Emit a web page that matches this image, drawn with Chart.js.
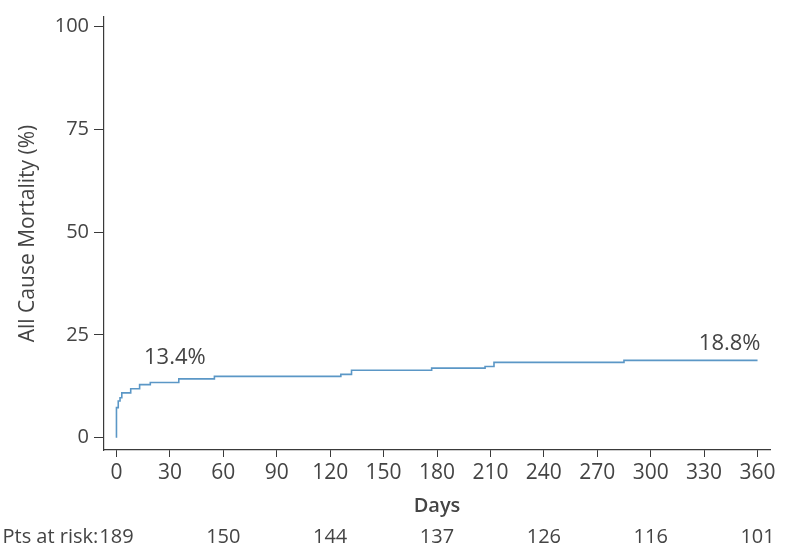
<!DOCTYPE html>
<html>
<head>
<meta charset="utf-8">
<title>All Cause Mortality</title>
<script src="https://cdn.jsdelivr.net/npm/chart.js@4.4.0/dist/chart.umd.min.js"></script>
<style>
  html, body { margin: 0; padding: 0; background: #fff; }
</style>
</head>
<body>
<canvas id="km" width="785" height="556"></canvas>
<script>
// Kaplan-Meier cumulative mortality (%) by day
const days = [0, 0, 1, 2, 3, 8, 13, 19, 35, 55, 126, 132, 177, 207, 212, 285, 360];
const mortality = [0, 7.3, 8.9, 9.7, 10.9, 11.9, 12.9, 13.4, 14.3, 14.9, 15.4, 16.4, 16.9, 17.3, 18.3, 18.8, 18.8];

const dayTicks = [0, 30, 60, 90, 120, 150, 180, 210, 240, 270, 300, 330, 360];
const mortalityTicks = [0, 25, 50, 75, 100];

// numbers at risk table under the axis
const riskDays = [0, 60, 120, 180, 240, 300, 360];
const atRisk = [189, 150, 144, 137, 126, 116, 101];

// estimates written on the curve
const calloutDays = [30, 360];
const calloutValues = [13.4, 18.8];

const FONT = '"Open Sans", "Noto Sans", sans-serif';
const TEXT = '#444';
const AXIS = '#3a3a3a';

const riskTable = {
  id: 'riskTable',
  afterDraw(chart) {
    const { ctx, scales: { x }, chartArea } = chart;
    const yRow = chartArea.bottom + 87;
    ctx.save();
    ctx.font = '20px ' + FONT;
    ctx.fillStyle = TEXT;
    ctx.textBaseline = 'middle';
    ctx.textAlign = 'center';
    atRisk.forEach((n, i) => {
      const px = x.getPixelForValue(riskDays[i]);
      ctx.fillText(String(n), px, yRow);
      if (i === 0) {
        const half = ctx.measureText(String(n)).width / 2;
        ctx.textAlign = 'right';
        ctx.fillText('Pts at risk:', px - half - 1, yRow);
        ctx.textAlign = 'center';
      }
    });
    ctx.restore();
  }
};

const callouts = {
  id: 'callouts',
  afterDatasetsDraw(chart) {
    const { ctx, scales: { x, y }, chartArea } = chart;
    ctx.save();
    ctx.font = '22px ' + FONT;
    ctx.fillStyle = TEXT;
    ctx.textBaseline = 'middle';
    calloutValues.forEach((v, i) => {
      const label = v.toFixed(1) + '%';
      const px = x.getPixelForValue(calloutDays[i]);
      const py = y.getPixelForValue(v);
      const w = ctx.measureText(label).width;
      if (px + w / 2 > chartArea.right - 10) {
        ctx.textAlign = 'right';
        ctx.fillText(label, px + 3, py - 17);
      } else {
        ctx.textAlign = 'center';
        ctx.fillText(label, px + 5, py - 25);
      }
    });
    ctx.restore();
  }
};

new Chart(document.getElementById('km').getContext('2d'), {
  type: 'line',
  data: {
    datasets: [{
      data: days.map((d, i) => ({ x: d, y: mortality[i] })),
      borderColor: '#5b97c6',
      borderWidth: 1.6,
      stepped: true,
      pointRadius: 0,
      fill: false
    }]
  },
  options: {
    responsive: false,
    animation: false,
    layout: { padding: { left: 0, right: 15, top: 12, bottom: 30 } },
    plugins: { legend: { display: false }, tooltip: { enabled: false } },
    scales: {
      x: {
        type: 'linear',
        min: -7,
        max: 367,
        afterBuildTicks: s => { s.ticks = dayTicks.map(v => ({ value: v })); },
        afterFit: s => { s.height = 76; },
        grid: { drawOnChartArea: false, tickLength: 7, color: AXIS },
        border: { color: AXIS, width: 1.2 },
        ticks: { font: { family: FONT, size: 21 }, color: TEXT, padding: 3, maxRotation: 0, autoSkip: false },
        title: { display: true, text: 'Days', color: TEXT, font: { family: FONT, size: 20, weight: '600' }, padding: { top: 0, bottom: 8 } }
      },
      y: {
        min: -3,
        max: 102.3,
        afterBuildTicks: s => { s.ticks = mortalityTicks.map(v => ({ value: v })); },
        afterFit: s => { s.width = 104; },
        grid: { drawOnChartArea: false, tickLength: 10, color: AXIS },
        border: { color: AXIS, width: 1.2 },
        ticks: { font: { family: FONT, size: 20 }, color: TEXT, padding: 5 },
        title: { display: true, text: 'All Cause Mortality (%)', color: TEXT, font: { family: FONT, size: 21 }, padding: { top: 15, bottom: 0 } }
      }
    }
  },
  plugins: [callouts, riskTable]
});
</script>
</body>
</html>
